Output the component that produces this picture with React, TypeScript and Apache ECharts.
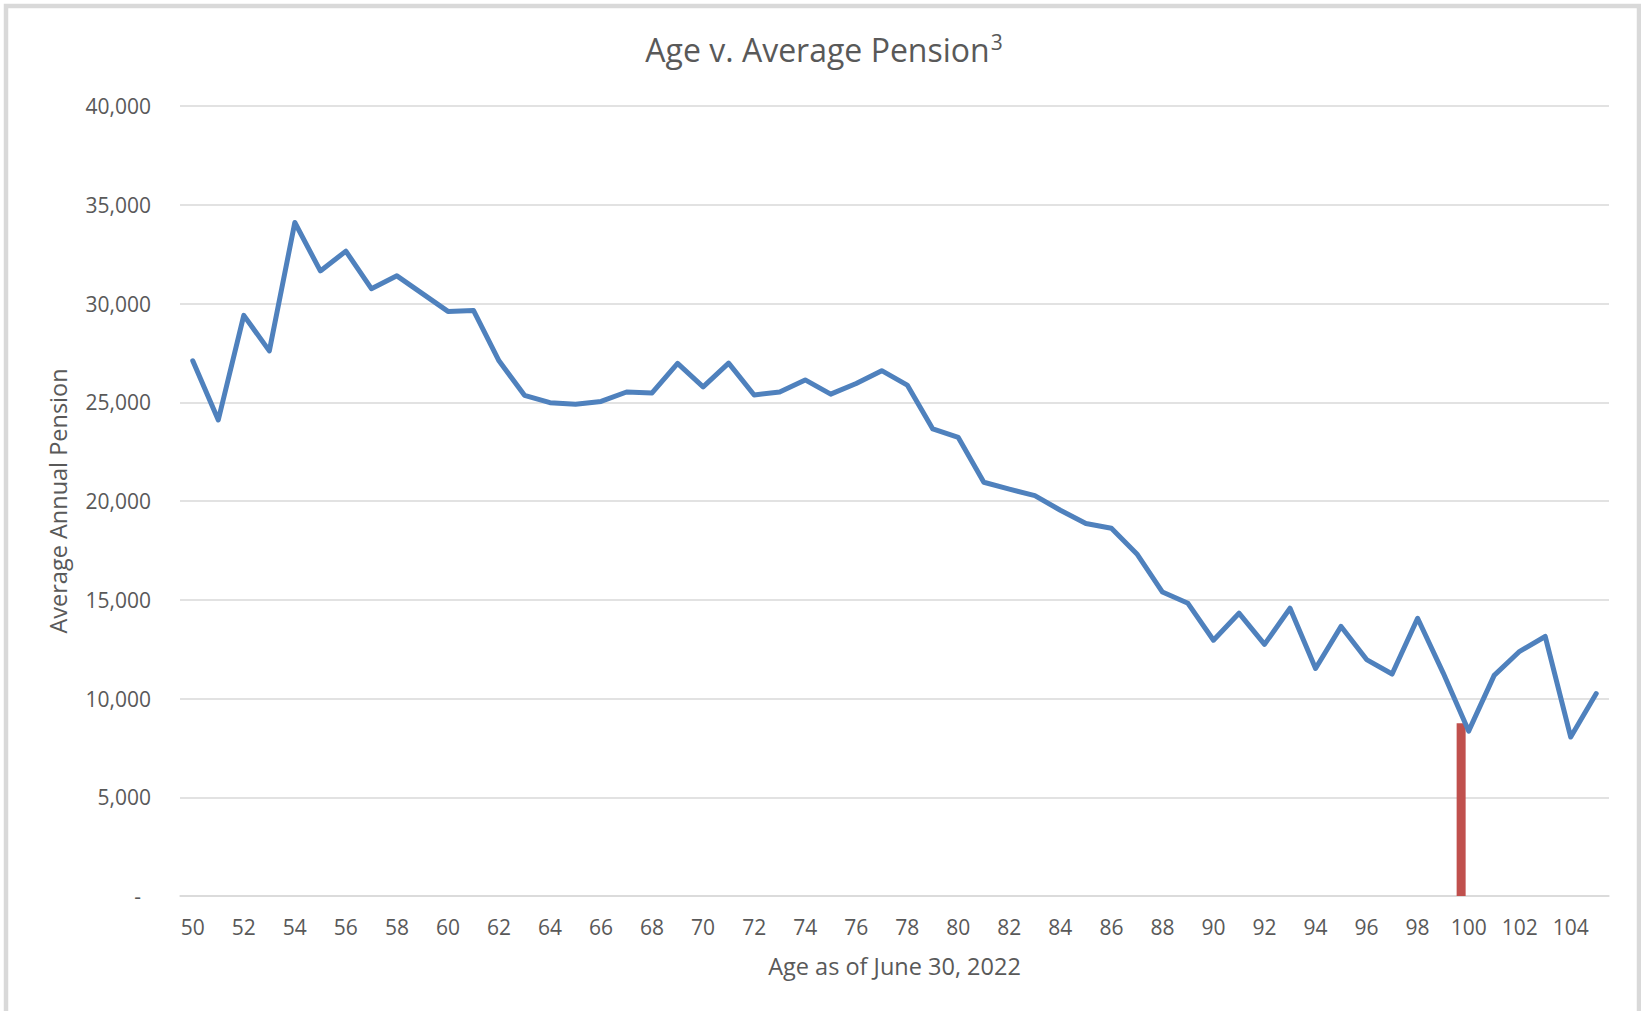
import React, { useEffect, useRef } from "react";
import * as echarts from "echarts";

const ages: string[] = [];
for (let a = 50; a <= 105; a++) ages.push(String(a));

const pensionValues: number[] = [
  27100, 24100, 29400, 27600, 34100, 31650, 32650, 30750, 31400, 30500,
  29600, 29650, 27100, 25350, 24980, 24900, 25040, 25520, 25470, 26970,
  25780, 26980, 25370, 25520, 26130, 25410, 25950, 26600, 25870, 23650,
  23220, 20950, 20600, 20270, 19530, 18860, 18620, 17320, 15390, 14820,
  12950, 14320, 12740, 14570, 11520, 13650, 11970, 11240, 14060, 11300,
  8350, 11170, 12390, 13140, 8050, 10250,
];

const markerAge = "100";
const markerValue = 8750;

const titleMain = "Age v. Average Pension";
const titleSup = "3";
const xAxisTitle = "Age as of June 30, 2022";
const yAxisTitle = "Average Annual Pension";

const FONT = "Open Sans";
const TEXT_COLOR = "#595959";
const GRID_COLOR = "#d9d9d9";

export default function App() {
  const ref = useRef<HTMLDivElement>(null);

  useEffect(() => {
    document.body.style.margin = "0";
    if (!ref.current) return;
    const chart = echarts.init(ref.current, undefined, { renderer: "svg" });

    const markerData = ages.map((a) => (a === markerAge ? markerValue : null));
    const dummyData = ages.map(() => null);

    chart.setOption({
      animation: false,
      backgroundColor: "#ffffff",
      textStyle: { fontFamily: FONT, color: TEXT_COLOR },
      graphic: [
        {
          type: "rect",
          shape: { x: 6, y: 6, width: 1633, height: 1100 },
          style: { fill: "none", stroke: GRID_COLOR, lineWidth: 4.5 },
          silent: true,
        },
        {
          type: "text",
          x: 824,
          y: 45,
          style: {
            text: `{a|${titleMain}}{s|${titleSup}}`,
            fontFamily: FONT,
            fontSize: 32,
            fill: TEXT_COLOR,
            textAlign: "center",
            textVerticalAlign: "middle",
            rich: {
              a: { fontFamily: FONT, fontSize: 32, fill: TEXT_COLOR, lineHeight: 40, verticalAlign: "bottom" },
              s: { fontFamily: FONT, fontSize: 21, fill: TEXT_COLOR, lineHeight: 24, verticalAlign: "top", padding: [6, 0, 0, 1] },
            },
          },
        },
      ],
      grid: { left: 180, right: 32, top: 106, bottom: 115, containLabel: false },
      xAxis: {
        type: "category",
        data: ages,
        boundaryGap: true,
        axisLine: { show: true, lineStyle: { color: GRID_COLOR, width: 1.5 } },
        axisTick: { show: false },
        axisLabel: {
          interval: 1,
          color: TEXT_COLOR,
          fontFamily: FONT,
          fontSize: 21,
          lineHeight: 21,
          margin: 20,
        },
        name: xAxisTitle,
        nameLocation: "middle",
        nameGap: 58,
        nameTextStyle: { color: TEXT_COLOR, fontFamily: FONT, fontSize: 23.5 },
      },
      yAxis: {
        type: "value",
        min: 0,
        max: 40000,
        interval: 5000,
        axisLine: { show: false },
        axisTick: { show: false },
        splitLine: { show: true, lineStyle: { color: GRID_COLOR, width: 1.5 } },
        axisLabel: {
          color: TEXT_COLOR,
          fontFamily: FONT,
          fontSize: 21,
          margin: 29,
          formatter: (v: number) =>
            v === 0 ? "{z|-}" : v.toLocaleString("en-US"),
          rich: {
            z: { fontFamily: FONT, fontSize: 21, color: TEXT_COLOR, padding: [0, 10, 0, 0] },
          },
        },
        name: yAxisTitle,
        nameLocation: "middle",
        nameGap: 110,
        nameRotate: 90,
        nameTextStyle: { color: TEXT_COLOR, fontFamily: FONT, fontSize: 23.5 },
      },
      series: [
        {
          name: "Age 100 marker",
          type: "bar",
          data: markerData,
          barWidth: 9,
          barGap: "67%",
          itemStyle: { color: "#c0504d" },
          z: 1,
        },
        {
          name: "spacer",
          type: "bar",
          data: dummyData,
          barWidth: 9,
          itemStyle: { color: "transparent" },
          z: 1,
        },
        {
          name: "Average Pension",
          type: "line",
          data: pensionValues,
          showSymbol: false,
          symbol: "none",
          lineStyle: { color: "#4f81bd", width: 5, join: "round", cap: "round" },
          itemStyle: { color: "#4f81bd" },
          z: 3,
        },
      ],
    });

    return () => {
      chart.dispose();
    };
  }, []);

  return <div ref={ref} style={{ width: 1641, height: 1011 }} />;
}
